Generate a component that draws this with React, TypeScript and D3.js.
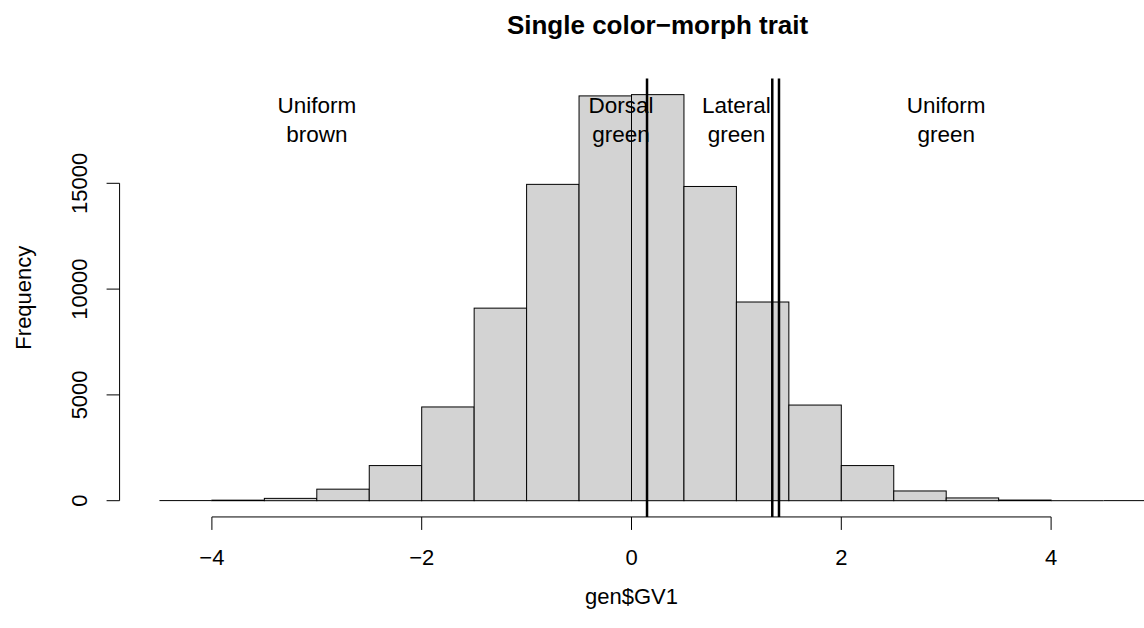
import React from "react";
import * as d3 from "d3";

const binStarts = [-4.5, -4, -3.5, -3, -2.5, -2, -1.5, -1, -0.5, 0, 0.5, 1, 1.5, 2, 2.5, 3, 3.5, 4, 4.5];
const binWidth = 0.5;
const counts = [5, 25, 110, 545, 1660, 4430, 9100, 14950, 19130, 19190, 14850, 9390, 4520, 1660, 460, 130, 30, 0, 3];
const xTicks = [-4, -2, 0, 2, 4];
const yTicks = [0, 5000, 10000, 15000];
const thresholds = [0.148, 1.342, 1.406];
const labelXs = [-3, -0.1, 1, 3];
const labelLines = [["Uniform", "brown"], ["Dorsal", "green"], ["Lateral", "green"], ["Uniform", "green"]];
const labelY = 18000;
const title = "Single color\u2212morph trait";
const xLabel = "gen$GV1";
const yLabel = "Frequency";

const W = 1144;
const H = 628;
const FONT = "'Liberation Sans', Arial, Helvetica, sans-serif";

export default function App() {
  const x = d3.scaleLinear().domain([-4, 4]).range([211.9, 1051.1]);
  const y = d3.scaleLinear().domain([0, 15000]).range([500.7, 183.3]);
  const ymax = d3.max(counts) as number;
  const plotTop = y(ymax * 1.04);
  const plotBottom = y(-ymax * 0.04);
  const xLo = binStarts[0] - 0.04 * (binStarts[binStarts.length - 1] + binWidth - binStarts[0]);
  const plotLeft = x(xLo);
  const axisY = plotBottom;
  const tickLen = 13;
  const fmt = (v: number) => (v < 0 ? "\u2212" + Math.abs(v) : String(v));

  return (
    <svg
      width={W}
      height={H}
      style={{ position: "absolute", left: 0, top: 0, background: "#fff" }}
      fontFamily={FONT}
    >
      <rect x={0} y={0} width={W} height={H} fill="#fff" />
      <text x={657.5} y={34} textAnchor="middle" fontSize={26} fontWeight="bold" fill="#000">
        {title}
      </text>

      {binStarts.map((s, i) => {
        const x0 = x(s);
        const x1 = x(s + binWidth);
        const y0 = y(counts[i]);
        const h = y(0) - y0;
        if (h < 0.5) {
          return (
            <line key={i} x1={x0} x2={x1} y1={y0} y2={y0} stroke="#000" strokeWidth={1} />
          );
        }
        return (
          <rect
            key={i}
            x={x0}
            y={y0}
            width={x1 - x0}
            height={h}
            fill="#D3D3D3"
            stroke="#000"
            strokeWidth={1}
          />
        );
      })}

      {thresholds.map((t, i) => (
        <line key={i} x1={x(t)} x2={x(t)} y1={plotTop} y2={plotBottom} stroke="#000" strokeWidth={2.5} />
      ))}

      {labelXs.map((lx, i) => (
        <text key={i} x={x(lx)} textAnchor="middle" fontSize={22.5} fill="#000">
          <tspan x={x(lx)} y={y(labelY) - 6.5}>{labelLines[i][0]}</tspan>
          <tspan x={x(lx)} y={y(labelY) + 21.9}>{labelLines[i][1]}</tspan>
        </text>
      ))}

      {/* x axis */}
      <line x1={x(xTicks[0])} x2={x(xTicks[xTicks.length - 1])} y1={axisY} y2={axisY} stroke="#000" strokeWidth={1} />
      {xTicks.map((t) => (
        <g key={t}>
          <line x1={x(t)} x2={x(t)} y1={axisY} y2={axisY + tickLen} stroke="#000" strokeWidth={1} />
          <text x={x(t)} y={565} textAnchor="middle" fontSize={22} fill="#000">
            {fmt(t)}
          </text>
        </g>
      ))}
      <text x={x(0)} y={604} textAnchor="middle" fontSize={22} fill="#000">
        {xLabel}
      </text>

      {/* y axis */}
      <line x1={plotLeft} x2={plotLeft} y1={y(yTicks[0])} y2={y(yTicks[yTicks.length - 1])} stroke="#000" strokeWidth={1} />
      {yTicks.map((t) => (
        <g key={t}>
          <line x1={plotLeft - tickLen} x2={plotLeft} y1={y(t)} y2={y(t)} stroke="#000" strokeWidth={1} />
          <text
            transform={`translate(${87},${y(t)}) rotate(-90)`}
            textAnchor="middle"
            fontSize={22}
            fill="#000"
          >
            {t}
          </text>
        </g>
      ))}
      <text
        transform={`translate(${31},${(plotTop + plotBottom) / 2}) rotate(-90)`}
        textAnchor="middle"
        fontSize={22}
        fill="#000"
      >
        {yLabel}
      </text>
    </svg>
  );
}
